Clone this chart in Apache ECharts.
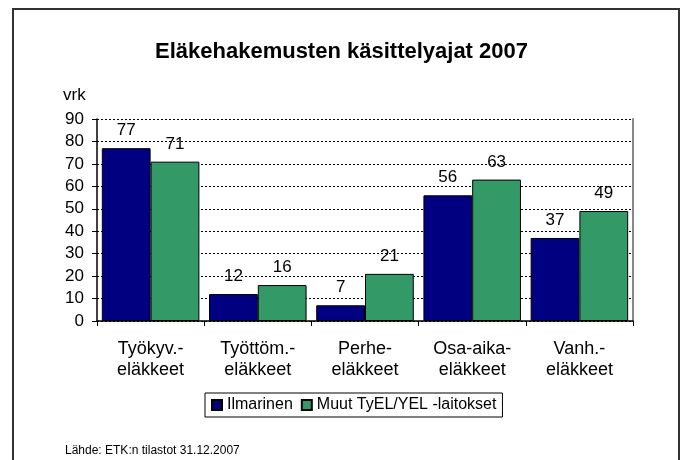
<!DOCTYPE html>
<html>
<head>
<meta charset="utf-8">
<script src="https://cdn.jsdelivr.net/npm/echarts@6/dist/echarts.min.js"></script>
<style>
  html, body { margin: 0; padding: 0; background: #fff; }
  #chart { width: 683px; height: 460px; }
</style>
</head>
<body>
<div id="chart"></div>
<script>
// käsittelyajat (vrk)
const categories = ['Työkyv.-\neläkkeet', 'Työttöm.-\neläkkeet', 'Perhe-\neläkkeet', 'Osa-aika-\neläkkeet', 'Vanh.-\neläkkeet']
const ilmarinen = [77, 12, 7, 56, 37]
const muut = [71, 16, 21, 63, 49]
const seriesNames = ['Ilmarinen', 'Muut TyEL/YEL -laitokset']

const font = 'Liberation Sans, Arial, sans-serif'

const chart = echarts.init(document.getElementById('chart'), null, { renderer: 'canvas' })

const barLabel = {
  show: true,
  position: 'top',
  distance: 9,
  color: '#000',
  fontSize: 17,
  fontFamily: font
}

chart.setOption({
  animation: false,
  backgroundColor: '#fff',
  title: [
    {
      text: 'Eläkehakemusten käsittelyajat 2007',
      left: 'center',
      top: 36,
      textStyle: { fontSize: 22, fontWeight: 'bold', color: '#000', fontFamily: font }
    },
    {
      text: 'vrk',
      left: 58,
      top: 82,
      textStyle: { fontSize: 17, fontWeight: 'normal', color: '#000', fontFamily: font }
    },
    {
      text: 'Lähde: ETK:n tilastot 31.12.2007',
      left: 60,
      top: 440,
      textStyle: { fontSize: 12, fontWeight: 'normal', color: '#000', fontFamily: font }
    }
  ],
  graphic: [
    {
      type: 'rect',
      shape: { x: 13, y: 9, width: 666, height: 470 },
      style: { fill: 'none', stroke: '#333', lineWidth: 2 },
      silent: true
    }
  ],
  legend: {
    data: seriesNames,
    icon: 'rect',
    left: 205,
    top: 393,
    itemWidth: 10,
    itemHeight: 10,
    itemGap: 8,
    padding: [4, 6, 4, 6],
    borderColor: '#000',
    borderWidth: 1,
    borderRadius: 0,
    textStyle: { fontSize: 16, color: '#000', fontFamily: font }
  },
  grid: { left: 97, right: 50, top: 119, bottom: 139, containLabel: false },
  xAxis: {
    type: 'category',
    data: categories,
    axisLine: { lineStyle: { color: '#000', width: 1.5 } },
    axisTick: { show: true, length: 5, lineStyle: { color: '#000' } },
    axisLabel: { color: '#000', fontSize: 18, lineHeight: 21, margin: 18, fontFamily: font }
  },
  yAxis: [
    {
      type: 'value',
      min: 0,
      max: 90,
      interval: 10,
      axisLine: { show: true, lineStyle: { color: '#000', width: 1.5 } },
      axisTick: { show: true, length: 5, lineStyle: { color: '#000' } },
      axisLabel: { color: '#000', fontSize: 17, margin: 13, fontFamily: font },
      splitLine: { show: true, lineStyle: { color: '#000', type: [2, 2], width: 1 } }
    },
    {
      type: 'value',
      position: 'right',
      min: 0,
      max: 90,
      interval: 10,
      axisLine: { show: true, lineStyle: { color: '#888', width: 2 } },
      axisTick: { show: false },
      axisLabel: { show: false },
      splitLine: { show: false }
    }
  ],
  series: [
    {
      name: seriesNames[0],
      type: 'bar',
      data: ilmarinen,
      barGap: '0%',
      barCategoryGap: '9%',
      itemStyle: { color: '#000080', borderColor: '#000', borderWidth: 1 },
      label: barLabel
    },
    {
      name: seriesNames[1],
      type: 'bar',
      data: muut,
      itemStyle: { color: '#339966', borderColor: '#000', borderWidth: 1 },
      label: barLabel
    }
  ]
})
</script>
</body>
</html>
